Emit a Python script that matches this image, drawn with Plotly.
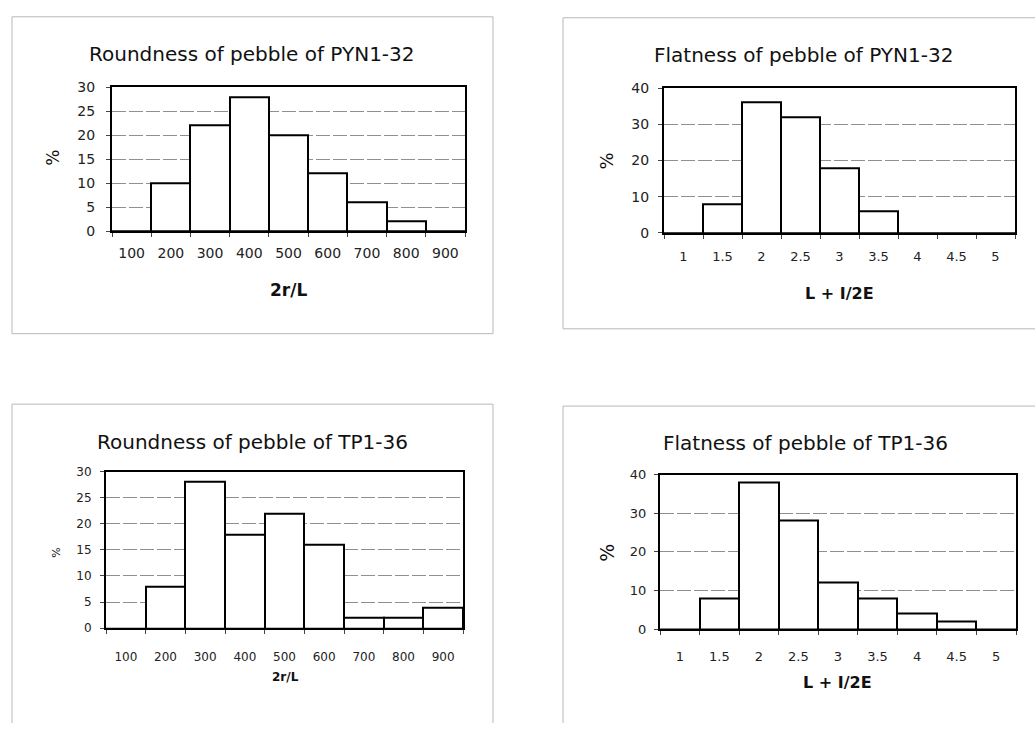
import plotly.graph_objects as go

# ---- data -------------------------------------------------------------
roundness_bins = ["100", "200", "300", "400", "500", "600", "700", "800", "900"]
flatness_bins = ["1", "1.5", "2", "2.5", "3", "3.5", "4", "4.5", "5"]

pyn_roundness = [0, 10, 22, 28, 20, 12, 6, 2, 0]
pyn_flatness = [0, 8, 36, 32, 18, 6, 0, 0, 0]
tp_roundness = [0, 8, 28, 18, 22, 16, 2, 2, 4]
tp_flatness = [0, 8, 38, 28, 12, 8, 4, 2, 0]

titles = [
    "Roundness of pebble of PYN1-32",
    "Flatness of pebble of PYN1-32",
    "Roundness of pebble of TP1-36",
    "Flatness of pebble of TP1-36",
]

W, H = 1035, 731
FONT = "DejaVu Sans"


def px_x(v):
    return v / W


def px_y(v):
    return 1 - v / H


# panel specs: plot box in pixels, fonts and label positions
panels = [
    dict(cats=roundness_bins, vals=pyn_roundness, ymax=30, dtick=5,
         box=(112, 465, 81, 228), title=titles[0], title_xy=(252, 47),
         xlabel="2r/L", xlabel_xy=(288, 288), xlabel_size=17,
         pct_xy=(53, 153), pct_size=17, tick_size=14, ytick_size=14,
         xstand=8, ystand=8),
    dict(cats=flatness_bins, vals=pyn_flatness, ymax=40, dtick=10,
         box=(664, 1015, 82, 230), title=titles[1], title_xy=(803, 48),
         xlabel="L + I/2E", xlabel_xy=(839, 292), xlabel_size=16,
         pct_xy=(607, 157), pct_size=18, tick_size=13, ytick_size=14,
         xstand=10, ystand=6),
    dict(cats=roundness_bins, vals=tp_roundness, ymax=30, dtick=5,
         box=(106, 463, 474, 634), title=titles[2], title_xy=(252, 444),
         xlabel="2r/L", xlabel_xy=(285, 684), xlabel_size=12,
         pct_xy=(57, 557), pct_size=11, tick_size=12, ytick_size=12,
         xstand=16, ystand=6),
    dict(cats=flatness_bins, vals=tp_flatness, ymax=40, dtick=10,
         box=(660, 1016, 477, 635), title=titles[3], title_xy=(805, 445),
         xlabel="L + I/2E", xlabel_xy=(837, 690), xlabel_size=16,
         pct_xy=(607, 557), pct_size=19, tick_size=13, ytick_size=13,
         xstand=14, ystand=5),
]

fig = go.Figure()
annotations = []

for i, p in enumerate(panels, start=1):
    xa = "x" if i == 1 else f"x{i}"
    ya = "y" if i == 1 else f"y{i}"
    fig.add_trace(go.Bar(
        x=p["cats"], y=p["vals"], width=1,
        marker=dict(color="white", line=dict(color="black", width=2)),
        xaxis=xa, yaxis=ya, showlegend=False, hoverinfo="x+y",
    ))
    x0, x1, y0, y1 = p["box"]
    xkey = "xaxis" if i == 1 else f"xaxis{i}"
    ykey = "yaxis" if i == 1 else f"yaxis{i}"
    fig.layout[xkey] = dict(
        domain=[px_x(x0), px_x(x1)], anchor=ya, type="category",
        range=[-0.5, len(p["cats"]) - 0.5],
        showline=True, linecolor="black", linewidth=2, mirror=True,
        showgrid=False, zeroline=False,
        ticks="outside", tickson="boundaries", ticklen=4, tickcolor="#444",
        ticklabelstandoff=p["xstand"],
        tickfont=dict(family=FONT, size=p["tick_size"], color="#222"),
    )
    fig.layout[ykey] = dict(
        domain=[px_y(y1), px_y(y0)], anchor=xa,
        range=[0, p["ymax"]], dtick=p["dtick"], tick0=0,
        showline=True, linecolor="black", linewidth=2, mirror=True,
        showgrid=True, gridcolor="#8f8f8f", gridwidth=1, griddash="14px,3px",
        zeroline=False,
        ticks="outside", ticklen=4, tickcolor="#444",
        ticklabelstandoff=p["ystand"],
        tickfont=dict(family=FONT, size=p["ytick_size"], color="#222"),
    )
    tx, ty = p["title_xy"]
    annotations.append(dict(
        text=p["title"], x=px_x(tx), y=px_y(ty), xref="paper", yref="paper",
        xanchor="center", yanchor="middle", showarrow=False,
        font=dict(family=FONT, size=20, color="#111"),
    ))
    lx, ly = p["xlabel_xy"]
    annotations.append(dict(
        text=f"<b>{p['xlabel']}</b>", x=px_x(lx), y=px_y(ly),
        xref="paper", yref="paper", xanchor="center", yanchor="middle",
        showarrow=False,
        font=dict(family=FONT, size=p["xlabel_size"], color="#111"),
    ))
    cx, cy = p["pct_xy"]
    annotations.append(dict(
        text="%", x=px_x(cx), y=px_y(cy), xref="paper", yref="paper",
        xanchor="center", yanchor="middle", showarrow=False, textangle=-90,
        font=dict(family=FONT, size=p["pct_size"], color="#111"),
    ))

# light chart-area borders around each panel
border = dict(color="#b8b8b8", width=1)
segments = [
    # top-left chart
    (12, 9, 493, 9), (12, 9, 12, 333), (493, 9, 493, 333), (12, 333, 493, 333),
    # top-right chart
    (563, 10, 1035, 10), (563, 10, 563, 328), (563, 328, 1035, 328),
    # bottom-left chart
    (12, 405, 493, 405), (12, 405, 12, 731), (493, 405, 493, 731),
    # bottom-right chart
    (563, 407, 1035, 407), (563, 407, 563, 731),
]
shapes = [
    dict(type="line", xref="paper", yref="paper",
         x0=px_x(a), y0=px_y(b), x1=px_x(c), y1=px_y(d), line=border)
    for a, b, c, d in segments
]

fig.update_layout(
    width=W, height=H,
    margin=dict(l=0, r=0, t=0, b=0),
    paper_bgcolor="white", plot_bgcolor="white",
    bargap=0, showlegend=False,
    annotations=annotations, shapes=shapes,
    font=dict(family=FONT, color="#111"),
)

fig.write_html("out.html")
